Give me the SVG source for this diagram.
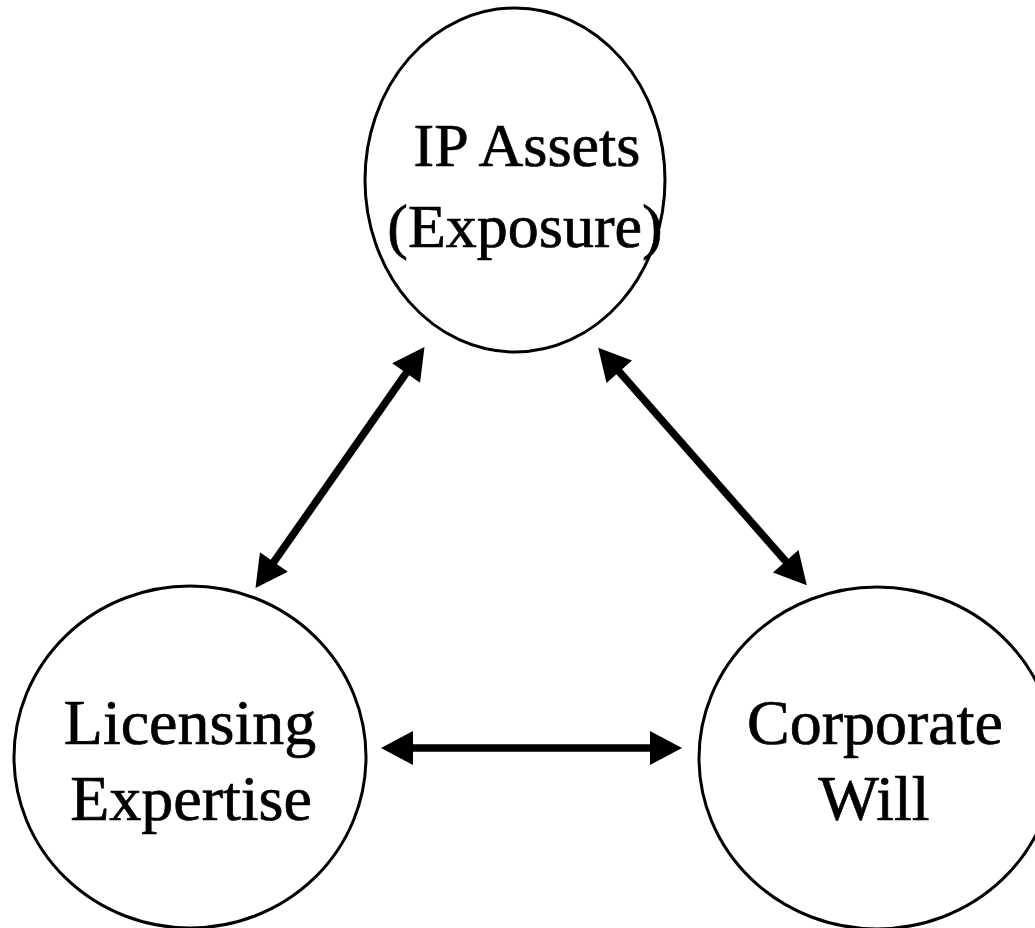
<svg xmlns="http://www.w3.org/2000/svg" width="1035" height="928" viewBox="0 0 1035 928">
  <style>
    .node { fill: #ffffff; stroke: #000000; stroke-width: 3; }
    .label { font-family: "Liberation Serif", "Times New Roman", serif; fill: #000000; stroke: #000000; stroke-width: 0.7; text-anchor: middle; }
    .top { font-size: 62px; }
    .bottom { font-size: 64px; }
    .link { stroke: #000000; stroke-width: 7.5; fill: none; marker-start: url(#head); marker-end: url(#head); }
  </style>
  <defs>
    <marker id="head" markerUnits="userSpaceOnUse" markerWidth="34" markerHeight="34" viewBox="0 0 32 34" refX="5" refY="17" orient="auto-start-reverse">
      <path d="M0,0 L32,17 L0,34 z" fill="#000000"/>
    </marker>
  </defs>
  <rect width="1035" height="928" fill="#ffffff"/>

  <g id="ip-assets">
    <ellipse class="node" cx="515" cy="180" rx="150" ry="172"/>
    <text class="label top" x="527" y="166">IP Assets</text>
    <text class="label top" x="525" y="247">(Exposure)</text>
  </g>

  <g id="licensing-expertise">
    <ellipse class="node" cx="190" cy="757" rx="176" ry="171"/>
    <text class="label bottom" x="190" y="744">Licensing</text>
    <text class="label bottom" x="191" y="820">Expertise</text>
  </g>

  <g id="corporate-will">
    <ellipse class="node" cx="877" cy="758" rx="178" ry="171"/>
    <text class="label bottom" x="875" y="744">Corporate</text>
    <text class="label bottom" x="874" y="820">Will</text>
  </g>

  <g id="connectors">
    <line class="link" x1="409" y1="369" x2="271" y2="566"/>
    <line class="link" x1="616" y1="368" x2="789" y2="565"/>
    <line class="link" x1="408" y1="748" x2="655" y2="748"/>
  </g>
</svg>
